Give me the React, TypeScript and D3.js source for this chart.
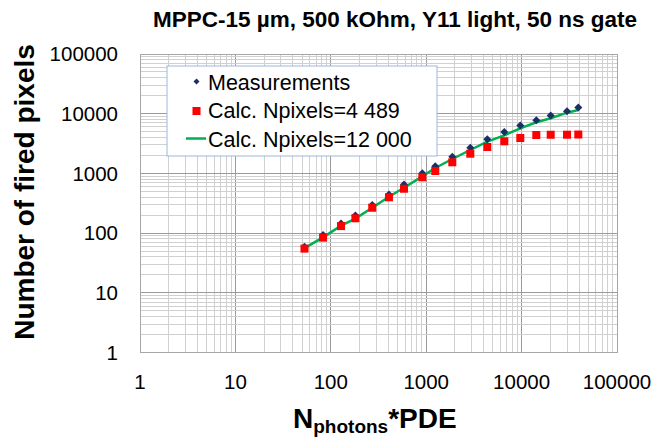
import React from "react";
import * as d3 from "d3";

// Photon-count scan: N_photons*PDE on x, fired pixels on y
const photonsPde = [53, 83, 128, 181, 272, 407, 585, 911, 1245, 1878, 2899, 4372, 6590, 9690, 14260, 20180, 29920, 39300];
const measured = [59, 93, 145, 197, 296, 443, 652, 1004, 1315, 1905, 2693, 3726, 4935, 6345, 7787, 9330, 10970, 12700];
const calcNpix4489 = [55, 84, 131, 177, 266, 398, 554, 860, 1097, 1535, 2138, 2768, 3450, 3918, 4398, 4440, 4450, 4480];
const calcNpix12000 = [56, 85, 133, 175, 266, 407, 576, 890, 1231, 1742, 2466, 3397, 4347, 5690, 7178, 8375, 10400, 11530];

const xTickLabels = ["1", "10", "100", "1000", "10000", "100000"];
const yTickLabels = ["1", "10", "100", "1000", "10000", "100000"];
const legendLabels = ["Measurements", "Calc. Npixels=4 489", "Calc. Npixels=12 000"];
const titleText = "MPPC-15 \u00b5m, 500 kOhm, Y11 light, 50 ns gate";

const W = 656;
const H = 437;
const FONT = "'Liberation Sans', Arial, sans-serif";
const NAVY = "#1b2f66";
const RED = "#ff0000";
const GREEN = "#00b050";

// square diamond (equal diagonals) centred on the origin
const diamondPath = (r: number) => `M0,${-r}L${r},0L0,${r}L${-r},0Z`;

export default function App() {
  const plot = { left: 140, right: 617, top: 54, bottom: 352.5 };
  const x = d3.scaleLog().domain([1, 1e5]).range([plot.left, plot.right]);
  const y = d3.scaleLog().domain([1, 1e5]).range([plot.bottom, plot.top]);

  // Decade grid with minor lines at 2..9
  const gridVals: { v: number; major: boolean }[] = [];
  for (let d = 0; d < 5; d++) {
    for (let k = 1; k <= 9; k++) {
      gridVals.push({ v: k * Math.pow(10, d), major: k === 1 });
    }
  }

  const line = d3
    .line<number>()
    .x((_, i) => x(photonsPde[i]))
    .y((v) => y(v));

  return (
    <svg width={W} height={H} style={{ position: "absolute", left: 0, top: 0, background: "#fff" }} fontFamily={FONT}>
      <rect x={0} y={0} width={W} height={H} fill="#fff" />
      <text x={395} y={27} textAnchor="middle" fontSize={22.5} fontWeight="bold" fill="#000">
        {titleText}
      </text>

      {/* grid */}
      <g shapeRendering="crispEdges">
        {gridVals.map((g, i) => (
          <line
            key={"gx" + i}
            x1={x(g.v)}
            x2={x(g.v)}
            y1={plot.top}
            y2={plot.bottom}
            stroke={g.major ? "#9a9a9a" : "#d0d0d0"}
            strokeWidth={1}
          />
        ))}
        {gridVals.map((g, i) => (
          <line
            key={"gy" + i}
            x1={plot.left}
            x2={plot.right}
            y1={y(g.v)}
            y2={y(g.v)}
            stroke={g.major ? "#9a9a9a" : "#d0d0d0"}
            strokeWidth={1}
          />
        ))}
        <rect
          x={plot.left}
          y={plot.top}
          width={plot.right - plot.left}
          height={plot.bottom - plot.top}
          fill="none"
          stroke="#a6a6a6"
        />
      </g>

      {/* y tick labels */}
      {yTickLabels.map((t) => (
        <text key={"yt" + t} x={118} y={y(+t)} dy="0.35em" textAnchor="end" fontSize={20.5} fill="#000">
          {t}
        </text>
      ))}
      {/* x tick labels */}
      {xTickLabels.map((t) => (
        <text key={"xt" + t} x={x(+t)} y={389} textAnchor="middle" fontSize={20.5} fill="#000">
          {t}
        </text>
      ))}

      {/* axis titles */}
      <text
        transform={`translate(34,192) rotate(-90)`}
        textAnchor="middle"
        fontSize={28}
        fontWeight="bold"
        fill="#000"
      >
        Number of fired pixels
      </text>
      <text x={293} y={428} fontSize={28} fontWeight="bold" fill="#000">
        N
        <tspan fontSize={19} dy={5}>photons</tspan>
        <tspan fontSize={28} dy={-5}>*PDE</tspan>
      </text>

      {/* series */}
      <path d={line(calcNpix12000) || ""} fill="none" stroke={GREEN} strokeWidth={2.5} />
      {measured.map((v, i) => (
        <path key={"m" + i} d={diamondPath(4)} transform={`translate(${x(photonsPde[i])},${y(v)})`} fill={NAVY} />
      ))}
      {calcNpix4489.map((v, i) => (
        <rect key={"c" + i} x={x(photonsPde[i]) - 4} y={y(v) - 4} width={8} height={8} fill={RED} />
      ))}

      {/* legend */}
      <rect x={167} y={66} width={270} height={90} fill="#fff" stroke="#9db5dc" strokeWidth={1} />
      <path d={diamondPath(3)} transform="translate(196.5,81.5)" fill={NAVY} />
      <rect x={192.5} y={107} width={8} height={8} fill={RED} />
      <line x1={186} x2={206} y1={138.5} y2={138.5} stroke={GREEN} strokeWidth={2.5} />
      {legendLabels.map((t, i) => (
        <text key={"lg" + i} x={208} y={82 + i * 28.5} dy="0.35em" fontSize={21.5} fill="#000">
          {t}
        </text>
      ))}
    </svg>
  );
}
